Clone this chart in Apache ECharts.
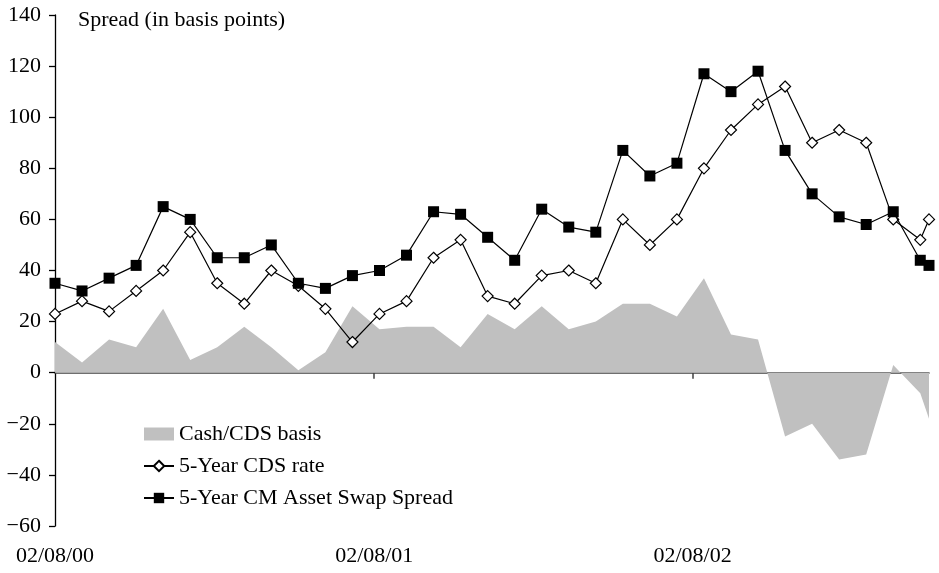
<!DOCTYPE html>
<html>
<head>
<meta charset="utf-8">
<script src="https://cdn.jsdelivr.net/npm/echarts@6/dist/echarts.min.js"></script>
<style>
html, body { margin: 0; padding: 0; background: #fff; }
#main { width: 939px; height: 573px; }
</style>
</head>
<body>
<div id="main"></div>
<script>
// observation dates (read from point positions)
var dates = ['2000-02-08', '2000-03-10', '2000-04-10', '2000-05-11', '2000-06-11', '2000-07-12',
    '2000-08-12', '2000-09-12', '2000-10-13', '2000-11-13', '2000-12-14', '2001-01-14',
    '2001-02-14', '2001-03-17', '2001-04-17', '2001-05-18', '2001-06-18', '2001-07-19',
    '2001-08-19', '2001-09-19', '2001-10-20', '2001-11-20', '2001-12-21', '2002-01-21',
    '2002-02-21', '2002-03-24', '2002-04-24', '2002-05-25', '2002-06-25', '2002-07-26',
    '2002-08-26', '2002-09-26', '2002-10-27', '2002-11-06'];

var basis = [12, 4, 13, 10, 25, 5, 10, 18, 10, 1, 8, 26,
    17, 18, 18, 10, 23, 17, 26, 17, 20, 27, 27, 22,
    37, 15, 13, -25, -20, -34, -32, 3, -8, -18];

var cdsRate = [23, 28, 24, 32, 40, 55, 35, 27, 40, 34, 25, 12,
    23, 28, 45, 52, 30, 27, 38, 40, 35, 60, 50, 60,
    80, 95, 105, 112, 90, 95, 90, 60, 52, 60];

var assetSwap = [35, 32, 37, 42, 65, 60, 45, 45, 50, 35, 33, 38,
    40, 46, 63, 62, 53, 44, 64, 57, 55, 87, 77, 82,
    117, 110, 118, 87, 70, 61, 58, 63, 44, 42];

var tickDates = ['2000-02-08', '2001-02-08', '2002-02-08'];
var tickLabels = ['02/08/00', '02/08/01', '02/08/02'];

var fontName = '"Liberation Serif", "Times New Roman", serif';

function ts(s) {
    return Date.parse(s + 'T00:00:00Z');
}

function pairs(vals) {
    return vals.map(function (v, i) {
        return [ts(dates[i]), v];
    });
}

var tickValues = tickDates.map(ts);
var xMin = ts(dates[0]);
var xMax = ts(dates[dates.length - 1]);

var myChart = echarts.init(document.getElementById('main'));

var options = {
    animation: false,
    backgroundColor: '#fff',
    textStyle: { fontFamily: fontName, color: '#000' },
    title: {
        text: 'Spread (in basis points)',
        left: 78,
        top: 9,
        padding: 0,
        textStyle: { fontFamily: fontName, fontSize: 22, fontWeight: 'normal', color: '#000' }
    },
    legend: {
        orient: 'vertical',
        left: 143,
        top: 423,
        padding: 0,
        itemWidth: 30,
        itemHeight: 13,
        itemGap: 10,
        textStyle: { fontFamily: fontName, fontSize: 22, color: '#000' },
        data: [
            { name: 'Cash/CDS basis', icon: 'rect' },
            { name: '5-Year CDS rate' },
            { name: '5-Year CM Asset Swap Spread' }
        ]
    },
    grid: {
        left: 55,
        right: 10,
        top: 15,
        bottom: 47
    },
    xAxis: [
        {   // the zero line with its year ticks
            type: 'value',
            min: xMin,
            max: xMax,
            position: 'bottom',
            axisLine: {
                show: true,
                onZero: true,
                lineStyle: { color: '#404040', width: 1.5 }
            },
            axisTick: {
                show: true,
                length: 6,
                customValues: tickValues.slice(1),
                lineStyle: { color: '#404040', width: 1.5 }
            },
            axisLabel: { show: false },
            splitLine: { show: false }
        },
        {   // labels at the bottom
            type: 'value',
            min: xMin,
            max: xMax,
            position: 'bottom',
            axisLine: { show: false, onZero: false },
            axisTick: { show: false },
            axisLabel: {
                show: true,
                margin: 19,
                fontSize: 22,
                fontFamily: fontName,
                color: '#000',
                customValues: tickValues,
                formatter: function (v) {
                    var k = tickValues.indexOf(v);
                    return k >= 0 ? tickLabels[k] : '';
                }
            },
            splitLine: { show: false }
        }
    ],
    yAxis: {
        type: 'value',
        min: -60,
        max: 140,
        interval: 20,
        axisLine: { show: true, lineStyle: { color: '#000', width: 1.3 } },
        axisTick: { show: true, length: 6, lineStyle: { color: '#000', width: 1.3 } },
        axisLabel: {
            margin: 14,
            fontSize: 22,
            fontFamily: fontName,
            color: '#000',
            formatter: function (v) {
                return String(v).replace('-', '\u2212');
            }
        },
        splitLine: { show: false }
    },
    series: [
        {
            name: 'Cash/CDS basis',
            type: 'line',
            xAxisIndex: 0,
            data: pairs(basis),
            symbol: 'none',
            lineStyle: { width: 0 },
            itemStyle: { color: '#c0c0c0' },
            areaStyle: { color: '#c0c0c0', opacity: 1, origin: 0 },
            z: 1
        },
        {
            name: '5-Year CDS rate',
            type: 'line',
            xAxisIndex: 0,
            data: pairs(cdsRate),
            symbol: 'diamond',
            symbolSize: 11,
            showAllSymbol: true,
            lineStyle: { color: '#000', width: 1.2 },
            itemStyle: { color: '#fff', borderColor: '#000', borderWidth: 1.2 },
            z: 3
        },
        {
            name: '5-Year CM Asset Swap Spread',
            type: 'line',
            xAxisIndex: 0,
            data: pairs(assetSwap),
            symbol: 'rect',
            symbolSize: 11,
            showAllSymbol: true,
            lineStyle: { color: '#000', width: 1.2 },
            itemStyle: { color: '#000' },
            z: 4
        }
    ]
};
myChart.setOption(options);
</script>
</body>
</html>
